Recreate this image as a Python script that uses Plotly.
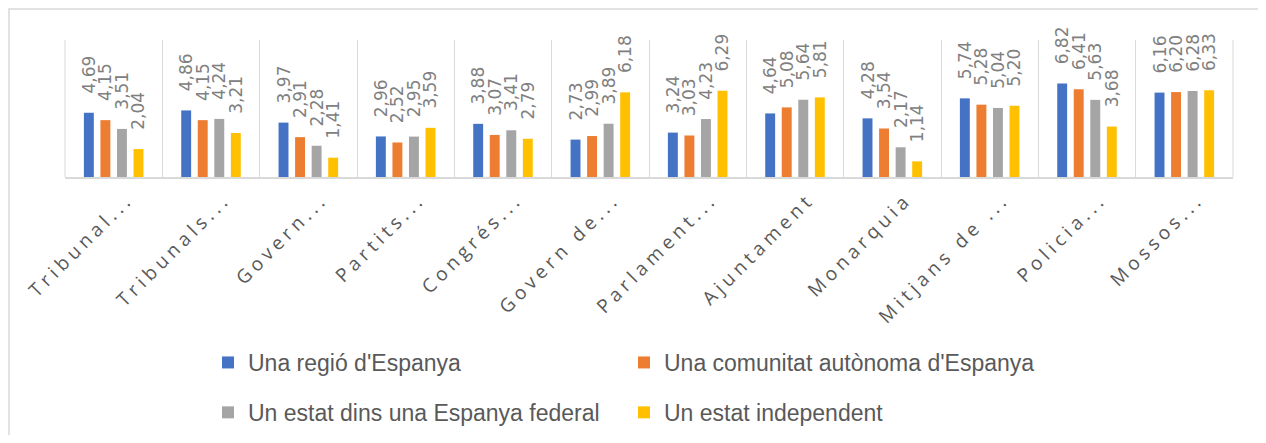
import plotly.graph_objects as go

categories = ["Tribunal...", "Tribunals...", "Govern...", "Partits...", "Congrés...",
              "Govern de...", "Parlament...", "Ajuntament", "Monarquia",
              "Mitjans de ...", "Policia...", "Mossos..."]

series_names = ["Una regió d'Espanya", "Una comunitat autònoma d'Espanya",
                "Un estat dins una Espanya federal", "Un estat independent"]

regio = [4.69, 4.86, 3.97, 2.96, 3.88, 2.73, 3.24, 4.64, 4.28, 5.74, 6.82, 6.16]
comunitat = [4.15, 4.15, 2.91, 2.52, 3.07, 2.99, 3.03, 5.08, 3.54, 5.28, 6.41, 6.20]
federal = [3.51, 4.24, 2.28, 2.95, 3.41, 3.89, 4.23, 5.64, 2.17, 5.04, 5.63, 6.28]
independent = [2.04, 3.21, 1.41, 3.59, 2.79, 6.18, 6.29, 5.81, 1.14, 5.20, 3.68, 6.33]

colors = ["#4472C4", "#ED7D31", "#A5A5A5", "#FFC000"]
values = [regio, comunitat, federal, independent]
legend_ids = ["legend", "legend2", "legend", "legend2"]

# page body has an 8px margin: figure coordinates = screen coordinates - 8
OFF = 8
W, H = 1250, 427
ml, mt = 65 - OFF, 40 - OFF
plot_right, plot_bottom = 1233 - OFF, 177 - OFF
mr, mb = W - plot_right, H - plot_bottom
pw, ph = W - ml - mr, H - mt - mb

def px_x(sx):
    return (sx - OFF - ml) / pw

def px_y(sy):
    return (H - mb - (sy - OFF)) / ph

fig = go.Figure()
for i, (name, vals) in enumerate(zip(series_names, values)):
    fig.add_trace(go.Bar(
        x=categories, y=vals, name=name,
        marker=dict(color=colors[i], line=dict(width=0)),
        texttemplate="\u00a0\u00a0\u00a0%{y:.2f}", textposition="outside", textangle=-90,
        constraintext="none", cliponaxis=False,
        textfont=dict(family="DejaVu Sans", size=17, color="#808080"),
        legend=legend_ids[i], legendgroup=f"g{i}",
    ))

legend_font = dict(family="Liberation Sans", size=23, color="#595959")
fig.update_layout(
    width=W, height=H,
    margin=dict(l=ml, r=mr, t=mt, b=mb, pad=0, autoexpand=False),
    paper_bgcolor="white", plot_bgcolor="white",
    barmode="group", bargap=0.32, bargroupgap=0.4,
    separators=",.",
    showlegend=True,
    legend=dict(x=px_x(208), y=px_y(341), xanchor="left", yanchor="top",
                orientation="v", font=legend_font, tracegroupgap=17,
                bgcolor="rgba(0,0,0,0)"),
    legend2=dict(x=px_x(624), y=px_y(341), xanchor="left", yanchor="top",
                 orientation="v", font=legend_font, tracegroupgap=17,
                 bgcolor="rgba(0,0,0,0)"),
    xaxis=dict(
        type="category", tickson="boundaries", showgrid=True,
        gridcolor="#D9D9D9", gridwidth=1, automargin=False,
        showline=True, linecolor="#D9D9D9", linewidth=1.5,
        ticks="", tickangle=-45, ticklabelshift=14, ticklabelstandoff=2,
        tickfont=dict(family="Open Sans", size=19, color="#595959"),
        range=[-0.5, 11.5],
    ),
    yaxis=dict(range=[0, 10], visible=False, showgrid=False, zeroline=False,
               automargin=False),
    shapes=[
        dict(type="rect", xref="paper", yref="paper",
             x0=px_x(9), x1=px_x(1300), y0=px_y(9), y1=px_y(520),
             line=dict(color="#D9D9D9", width=1.5), layer="below"),
        dict(type="line", xref="paper", yref="paper",
             x0=0, x1=0, y0=0, y1=1, line=dict(color="#D9D9D9", width=1)),
        dict(type="line", xref="paper", yref="paper",
             x0=1, x1=1, y0=0, y1=1, line=dict(color="#D9D9D9", width=1)),
    ],
)

post = """
var gd = document.getElementById('{plot_id}');
function spaceTicks() {
  gd.querySelectorAll('.xtick text').forEach(function (t) {
    t.style.letterSpacing = '4.5px';
  });
}
spaceTicks();
gd.on('plotly_afterplot', spaceTicks);
"""

fig.write_html("out.html", post_script=post)
